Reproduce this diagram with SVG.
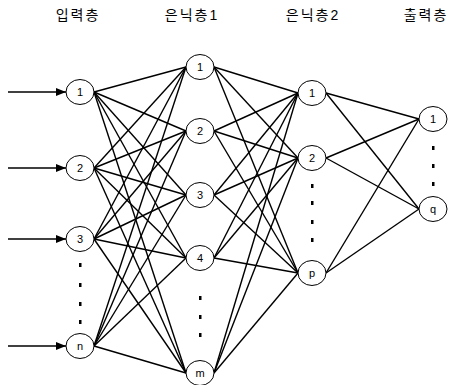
<svg xmlns="http://www.w3.org/2000/svg" width="450" height="385" viewBox="0 0 450 385">
<style>
.n ellipse{fill:#fff;stroke:#000;stroke-width:1}
.n text{font-family:"Liberation Sans",Arial,sans-serif;font-size:11px;text-anchor:middle;dominant-baseline:central;fill:#000}
.h{font-family:"Liberation Sans","Noto Sans CJK KR",sans-serif;font-size:14px;letter-spacing:2px;text-anchor:middle;fill:#000}
#edges line{stroke:#000;stroke-width:1.4}
.dot{fill:#000}
</style>
<defs>
<marker id="ah" markerWidth="10" markerHeight="8" refX="10" refY="4" orient="auto" markerUnits="userSpaceOnUse">
<path d="M0,0 L10,4 L0,8 Z" fill="#000"/>
</marker>
</defs>
<rect width="450" height="385" fill="#fff"/>
<g id="headers">
<text class="h" x="78" y="20">입력층</text>
<text class="h" x="192" y="20">은닉층1</text>
<text class="h" x="313" y="20">은닉층2</text>
<text class="h" x="426" y="20">출력층</text>
</g>
<g id="edges">
<line x1="8" y1="92" x2="66" y2="92" marker-end="url(#ah)"/>
<line x1="8" y1="168" x2="66" y2="168" marker-end="url(#ah)"/>
<line x1="8" y1="239" x2="66" y2="239" marker-end="url(#ah)"/>
<line x1="8" y1="346" x2="66" y2="346" marker-end="url(#ah)"/>
<line x1="94" y1="92" x2="186" y2="67"/><line x1="94" y1="92" x2="186" y2="131"/><line x1="94" y1="92" x2="186" y2="195"/><line x1="94" y1="92" x2="186" y2="258"/><line x1="94" y1="92" x2="186" y2="373"/>
<line x1="94" y1="168" x2="186" y2="67"/><line x1="94" y1="168" x2="186" y2="131"/><line x1="94" y1="168" x2="186" y2="195"/><line x1="94" y1="168" x2="186" y2="258"/><line x1="94" y1="168" x2="186" y2="373"/>
<line x1="94" y1="239" x2="186" y2="67"/><line x1="94" y1="239" x2="186" y2="131"/><line x1="94" y1="239" x2="186" y2="195"/><line x1="94" y1="239" x2="186" y2="258"/><line x1="94" y1="239" x2="186" y2="373"/>
<line x1="94" y1="346" x2="186" y2="67"/><line x1="94" y1="346" x2="186" y2="131"/><line x1="94" y1="346" x2="186" y2="195"/><line x1="94" y1="346" x2="186" y2="258"/><line x1="94" y1="346" x2="186" y2="373"/>
<line x1="214" y1="67" x2="298" y2="93"/><line x1="214" y1="67" x2="298" y2="158"/><line x1="214" y1="67" x2="298" y2="273"/>
<line x1="214" y1="131" x2="298" y2="93"/><line x1="214" y1="131" x2="298" y2="158"/><line x1="214" y1="131" x2="298" y2="273"/>
<line x1="214" y1="195" x2="298" y2="93"/><line x1="214" y1="195" x2="298" y2="158"/><line x1="214" y1="195" x2="298" y2="273"/>
<line x1="214" y1="258" x2="298" y2="93"/><line x1="214" y1="258" x2="298" y2="158"/><line x1="214" y1="258" x2="298" y2="273"/>
<line x1="214" y1="373" x2="298" y2="93"/><line x1="214" y1="373" x2="298" y2="158"/><line x1="214" y1="373" x2="298" y2="273"/>
<line x1="326" y1="93" x2="419" y2="119"/><line x1="326" y1="93" x2="419" y2="209"/>
<line x1="326" y1="158" x2="419" y2="119"/><line x1="326" y1="158" x2="419" y2="209"/>
<line x1="326" y1="273" x2="419" y2="119"/><line x1="326" y1="273" x2="419" y2="209"/>
</g>
<g id="in1" class="n"><ellipse cx="80" cy="92" rx="14" ry="12.5"/><text x="80" y="92">1</text></g>
<g id="in2" class="n"><ellipse cx="80" cy="168" rx="14" ry="12.5"/><text x="80" y="168">2</text></g>
<g id="in3" class="n"><ellipse cx="80" cy="239" rx="14" ry="12.5"/><text x="80" y="239">3</text></g>
<g id="inn" class="n"><ellipse cx="80" cy="346" rx="14" ry="12.5"/><text x="80" y="346">n</text></g>
<g id="h1_1" class="n"><ellipse cx="200" cy="67" rx="14" ry="12.5"/><text x="200" y="67">1</text></g>
<g id="h1_2" class="n"><ellipse cx="200" cy="131" rx="14" ry="12.5"/><text x="200" y="131">2</text></g>
<g id="h1_3" class="n"><ellipse cx="200" cy="195" rx="14" ry="12.5"/><text x="200" y="195">3</text></g>
<g id="h1_4" class="n"><ellipse cx="200" cy="258" rx="14" ry="12.5"/><text x="200" y="258">4</text></g>
<g id="h1_m" class="n"><ellipse cx="200" cy="373" rx="14" ry="12.5"/><text x="200" y="373">m</text></g>
<g id="h2_1" class="n"><ellipse cx="312" cy="93" rx="14" ry="12.5"/><text x="312" y="93">1</text></g>
<g id="h2_2" class="n"><ellipse cx="312" cy="158" rx="14" ry="12.5"/><text x="312" y="158">2</text></g>
<g id="h2_p" class="n"><ellipse cx="312" cy="273" rx="14" ry="12.5"/><text x="312" y="273">p</text></g>
<g id="out1" class="n"><ellipse cx="433" cy="119" rx="14" ry="12.5"/><text x="433" y="119">1</text></g>
<g id="outq" class="n"><ellipse cx="433" cy="209" rx="14" ry="12.5"/><text x="433" y="209">q</text></g>
<g id="dots">
<rect class="dot" x="79" y="263" width="2.5" height="4"/><rect class="dot" x="79" y="283" width="2.5" height="4"/><rect class="dot" x="79" y="302" width="2.5" height="4"/><rect class="dot" x="79" y="320" width="2.5" height="4"/>
<rect class="dot" x="199" y="296" width="2.5" height="4"/><rect class="dot" x="199" y="315" width="2.5" height="4"/><rect class="dot" x="199" y="333" width="2.5" height="4"/>
<rect class="dot" x="311" y="184" width="2.5" height="4"/><rect class="dot" x="311" y="201" width="2.5" height="4"/><rect class="dot" x="311" y="220" width="2.5" height="4"/><rect class="dot" x="311" y="238" width="2.5" height="4"/>
<rect class="dot" x="432" y="146" width="2.5" height="4"/><rect class="dot" x="432" y="164" width="2.5" height="4"/><rect class="dot" x="432" y="182" width="2.5" height="4"/>
</g>
</svg>
